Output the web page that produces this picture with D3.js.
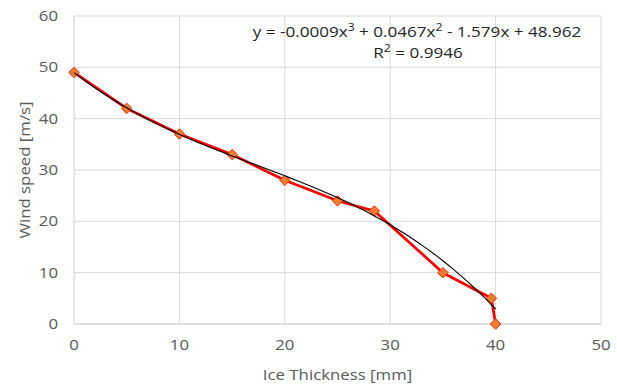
<!DOCTYPE html>
<html>
<head>
<meta charset="utf-8">
<script src="https://cdn.jsdelivr.net/npm/d3@7"></script>
<style>
  body { margin: 0; background: #fff; }
  text { font-family: "Open Sans", sans-serif; }
</style>
</head>
<body>
<script>
// measured points
const thickness = [0, 5, 10, 15, 20, 25, 28.5, 35, 39.6, 40];
const windSpeed = [49, 42, 37, 33, 28, 24, 22, 10, 5, 0];

// trendline coefficients shown on the chart (x^3, x^2, x, 1)
const trendCoef = [-0.0009, 0.0467, -1.579, 48.962];
const trendSteps = 80;

const xTicks = [0, 10, 20, 30, 40, 50];
const yTicks = [0, 10, 20, 30, 40, 50, 60];

const width = 617, height = 387;
const margin = {left: 74, right: 16, top: 16, bottom: 63};
const stretch = 1.2; // text in the original is a bit wide

const svg = d3.select("body").append("svg")
    .attr("width", width)
    .attr("height", height);

const x = d3.scaleLinear().domain([0, 50]).range([margin.left, width - margin.right]);
const y = d3.scaleLinear().domain([0, 60]).range([height - margin.bottom, margin.top]);

// gridlines
svg.append("g").selectAll("line").data(yTicks.slice(1)).enter().append("line")
    .attr("x1", x(0)).attr("x2", x(50))
    .attr("y1", d => y(d)).attr("y2", d => y(d))
    .attr("stroke", "#d9d9d9").attr("stroke-width", 1);
svg.append("g").selectAll("line").data(xTicks.slice(1)).enter().append("line")
    .attr("x1", d => x(d)).attr("x2", d => x(d))
    .attr("y1", y(0)).attr("y2", y(60))
    .attr("stroke", "#d9d9d9").attr("stroke-width", 1);

// axes lines
svg.append("line")
    .attr("x1", x(0)).attr("x2", x(50)).attr("y1", y(0)).attr("y2", y(0))
    .attr("stroke", "#bfbfbf");
svg.append("line")
    .attr("x1", x(0)).attr("x2", x(0)).attr("y1", y(0)).attr("y2", y(60))
    .attr("stroke", "#d0d0d0");

// tick labels
svg.append("g").selectAll("text").data(xTicks).enter().append("text")
    .attr("transform", d => `translate(${x(d)}, ${y(0) + 26}) scale(${stretch}, 1)`)
    .attr("text-anchor", "middle")
    .attr("font-size", 14).attr("fill", "#595959")
    .text(d => d);
svg.append("g").selectAll("text").data(yTicks).enter().append("text")
    .attr("transform", d => `translate(${x(0) - 16}, ${y(d) + 5}) scale(${stretch}, 1)`)
    .attr("text-anchor", "end")
    .attr("font-size", 14).attr("fill", "#595959")
    .text(d => d);

// axis titles
svg.append("text")
    .attr("transform", `translate(${(x(0) + x(50)) / 2}, 380) scale(${stretch}, 1)`)
    .attr("text-anchor", "middle")
    .attr("font-size", 14).attr("fill", "#595959")
    .text("Ice Thickness [mm]");
svg.append("text")
    .attr("transform", `translate(30, ${(y(0) + y(60)) / 2}) rotate(-90) scale(${stretch}, 1)`)
    .attr("text-anchor", "middle")
    .attr("font-size", 14).attr("fill", "#595959")
    .text("Wind speed [m/s]");

// data line
const points = thickness.map((t, i) => [t, windSpeed[i]]);
const line = d3.line().x(d => x(d[0])).y(d => y(d[1]));
svg.append("path")
    .datum(points)
    .attr("d", line)
    .attr("fill", "none")
    .attr("stroke", "#ff0000")
    .attr("stroke-width", 2.75)
    .attr("stroke-linejoin", "round");

// markers
svg.append("g").selectAll("path").data(points).enter().append("path")
    .attr("d", d3.symbol().type(d3.symbolDiamond2).size(70))
    .attr("transform", d => `translate(${x(d[0])}, ${y(d[1])})`)
    .attr("fill", "#ed7d31")
    .attr("stroke", "#ff2a00")
    .attr("stroke-width", 1);

// polynomial trendline
const trendX = d3.range(trendSteps + 1).map(i => 40 * i / trendSteps);
const poly = t => trendCoef[0] * t * t * t + trendCoef[1] * t * t + trendCoef[2] * t + trendCoef[3];
svg.append("path")
    .datum(trendX.map(t => [t, poly(t)]))
    .attr("d", line)
    .attr("fill", "none")
    .attr("stroke", "#000")
    .attr("stroke-width", 1.1);

// equation label
const eq = svg.append("text")
    .attr("transform", `translate(417, 37) scale(1.22, 1)`)
    .attr("text-anchor", "middle")
    .attr("font-size", 14).attr("fill", "#262626");
eq.append("tspan").text("y = -0.0009x");
eq.append("tspan").attr("baseline-shift", "super").attr("font-size", 10).text("3");
eq.append("tspan").text(" + 0.0467x");
eq.append("tspan").attr("baseline-shift", "super").attr("font-size", 10).text("2");
eq.append("tspan").text(" - 1.579x + 48.962");

const r2 = svg.append("text")
    .attr("transform", `translate(418, 58) scale(1.22, 1)`)
    .attr("text-anchor", "middle")
    .attr("font-size", 14).attr("fill", "#262626");
r2.append("tspan").text("R");
r2.append("tspan").attr("baseline-shift", "super").attr("font-size", 10).text("2");
r2.append("tspan").text(" = 0.9946");
</script>
</body>
</html>
